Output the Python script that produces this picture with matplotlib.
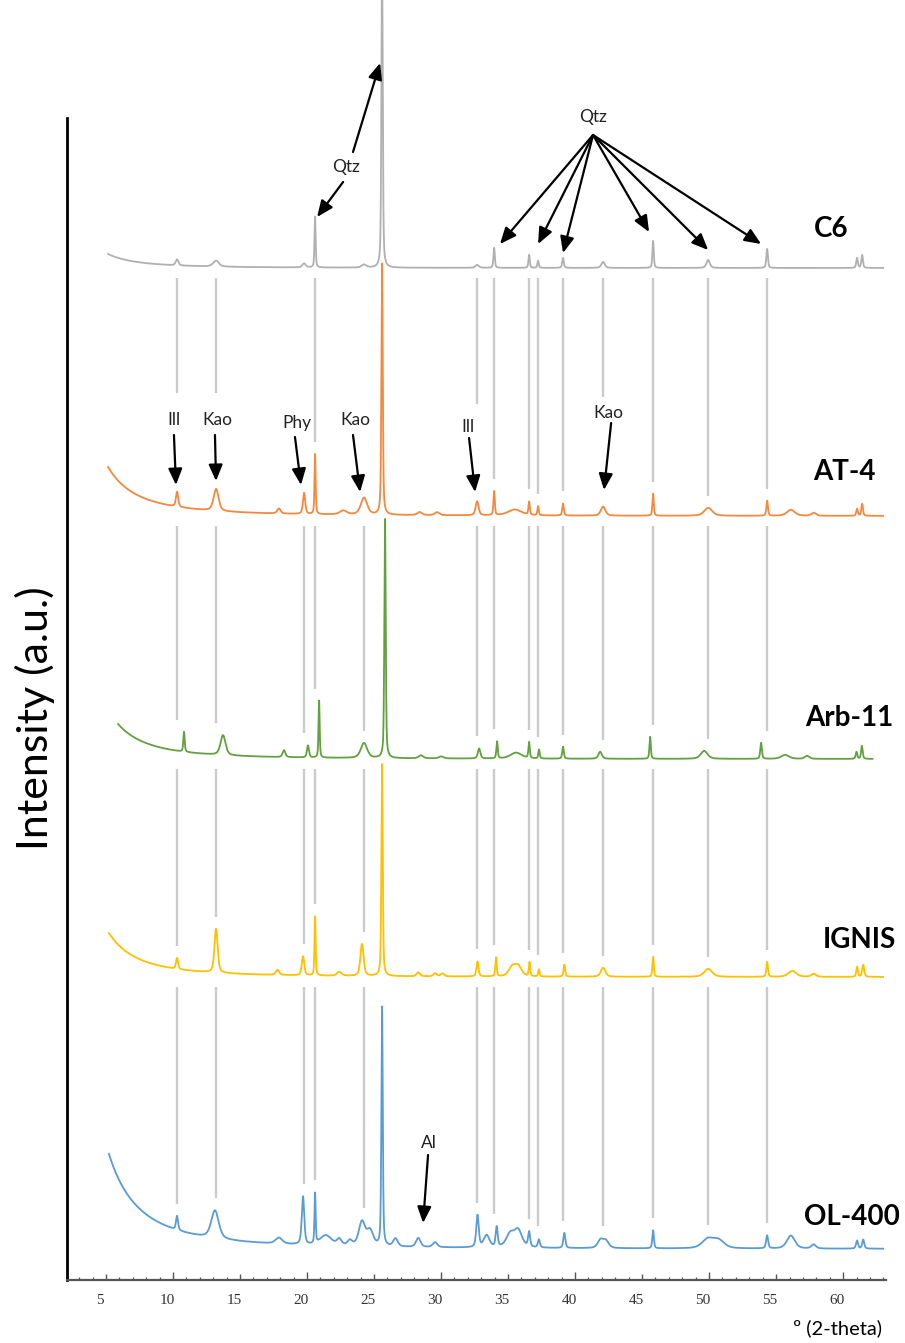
import numpy as np
import matplotlib
matplotlib.use("Agg")
import matplotlib.pyplot as plt
from matplotlib.ticker import MultipleLocator
import matplotlib.transforms as mtransforms

# ---------------- data (2-theta in degrees, intensity in a.u.) ----------------
samples = ["C6", "AT-4", "Arb-11", "IGNIS", "OL-400"]
colors = ["#b0b0b0", "#f4893e", "#62a040", "#ffc000", "#5b9bd5"]

# stacking offsets of each pattern (a.u.)
offsets = [1012, 764, 521, 303, 31]
# scan range of each pattern
scan_start = [5.15, 5.15, 5.9, 5.22, 5.22]
scan_end = [63.0, 63.0, 62.2, 63.0, 63.0]
# low-angle background: amplitude at scan start and decay exponent
bg_amp = [14, 49, 35, 44, 95]
bg_exp = [2.4, 2.4, 2.6, 2.5, 2.37]

c6_pos = [10.3, 13.21, 19.78, 20.6, 24.25, 25.6, 32.69, 33.96, 36.57, 37.24,
          39.10, 42.09, 45.82, 49.93, 54.33, 61.04, 61.42]
c6_hgt = [6, 6, 4, 51, 3, 300, 3, 20, 13, 7, 10, 6, 27, 8, 19, 10, 13]
c6_wid = [0.12, 0.25, 0.15, 0.05, 0.2, 0.06, 0.15, 0.06, 0.06, 0.06, 0.07,
          0.15, 0.06, 0.15, 0.07, 0.07, 0.07]

at4_pos = [10.3, 13.21, 17.9, 19.78, 20.6, 22.7, 24.25, 25.6, 28.4, 29.7,
           32.69, 33.96, 35.5, 36.57, 37.24, 39.10, 42.09, 45.82, 49.93,
           54.33, 56.1, 57.8, 61.04, 61.42]
at4_hgt = [15, 22, 5, 21, 60, 4, 17, 251, 3, 3, 14, 24, 6, 13, 9, 12, 9, 22,
           8, 15, 6, 3, 7, 12]
at4_wid = [0.1, 0.22, 0.15, 0.1, 0.05, 0.3, 0.28, 0.06, 0.2, 0.2, 0.13,
           0.06, 0.6, 0.06, 0.06, 0.07, 0.2, 0.06, 0.35, 0.07, 0.35, 0.2,
           0.07, 0.07]

arb_pos = [10.82, 13.73, 18.28, 20.07, 20.90, 24.25, 25.82, 28.5, 30.0,
           32.84, 34.18, 35.6, 36.57, 37.31, 39.10, 41.87, 45.60, 49.63,
           53.88, 55.67, 57.31, 61.0, 61.4]
arb_hgt = [20, 20, 7, 12, 57, 15, 239, 3, 2, 10, 17, 6, 16, 9, 12, 7, 22, 8,
           16, 4, 3, 7, 13]
arb_wid = [0.06, 0.22, 0.12, 0.09, 0.05, 0.28, 0.06, 0.2, 0.2, 0.11, 0.06,
           0.5, 0.06, 0.06, 0.07, 0.15, 0.06, 0.3, 0.07, 0.35, 0.2, 0.07,
           0.07]

ign_pos = [10.3, 13.21, 17.8, 19.7, 20.6, 22.4, 24.1, 25.6, 28.3, 29.55,
           30.1, 32.72, 34.1, 35.3, 35.75, 36.6, 37.3, 39.2, 42.09, 45.82,
           49.93, 54.33, 56.2, 57.8, 61.04, 61.5]
ign_hgt = [11, 44, 5, 19, 59, 4, 32, 212, 4, 3, 3, 15, 19, 9, 10, 14, 7, 12,
           9, 20, 8, 15, 6, 3, 10, 12]
ign_wid = [0.09, 0.14, 0.15, 0.11, 0.05, 0.2, 0.14, 0.06, 0.15, 0.15, 0.15,
           0.09, 0.06, 0.3, 0.3, 0.06, 0.06, 0.07, 0.2, 0.06, 0.35, 0.07,
           0.35, 0.2, 0.07, 0.09]

ol_pos = [10.3, 13.13, 17.9, 19.7, 20.6, 21.4, 22.4, 23.2, 24.1, 24.7, 25.6,
          26.6, 28.3, 29.55, 32.72, 33.4, 34.15, 35.15, 35.75, 36.57, 37.3,
          39.2, 41.9, 42.3, 45.82, 49.9, 50.7, 54.33, 56.1, 57.8, 61.04, 61.5]
ol_hgt = [14, 28, 6, 48, 50, 10, 6, 5, 24, 15, 239, 8, 9, 5, 32, 12, 20, 13,
          17, 15, 8, 15, 8, 7, 18, 9, 8, 13, 13, 4, 8, 9]
ol_wid = [0.09, 0.33, 0.3, 0.11, 0.05, 0.5, 0.2, 0.2, 0.28, 0.28, 0.06, 0.2,
          0.2, 0.2, 0.11, 0.25, 0.09, 0.35, 0.35, 0.09, 0.09, 0.09, 0.25,
          0.25, 0.07, 0.5, 0.5, 0.09, 0.35, 0.2, 0.09, 0.09]

peak_pos = [c6_pos, at4_pos, arb_pos, ign_pos, ol_pos]
peak_hgt = [c6_hgt, at4_hgt, arb_hgt, ign_hgt, ol_hgt]
peak_wid = [c6_wid, at4_wid, arb_wid, ign_wid, ol_wid]

# reference (grey) lines between consecutive patterns
ref_lines = [10.3, 13.21, 19.78, 20.6, 24.25, 32.69, 33.96, 36.57, 37.24,
             39.10, 42.09, 45.82, 49.93, 54.33]
gap1_skip = [19.78, 24.25]
gap1_label_stop = {10.3: 887, 13.21: 887, 32.69: 876, 42.09: 883}

x_ticks = [5, 10, 15, 20, 25, 30, 35, 40, 45, 50, 55, 60]

# ---------------- figure ----------------
W, H = 905, 1343
fig = plt.figure(figsize=(W / 100, H / 100), dpi=100)
ax = fig.add_axes([67 / W, 63 / H, (886 - 67) / W, 1280 / H])
ax.set_xlim(2.09, 63.2)
ax.set_ylim(0, 1280)

SANS = ["Lato", "DejaVu Sans"]


def pattern(i):
    x = np.arange(scan_start[i], scan_end[i], 0.01)
    y = offsets[i] + bg_amp[i] * (scan_start[i] / x) ** bg_exp[i]
    for c, h, w in zip(peak_pos[i], peak_hgt[i], peak_wid[i]):
        d = (x - c) / w
        y = y + h * (0.5 * np.exp(-np.log(2) * d * d) + 0.5 / (1 + d * d))
    return x, y


traces = [pattern(i) for i in range(len(samples))]

# grey reference lines
for i in range(len(samples) - 1):
    top = offsets[i] - 10
    lx, ly = traces[i + 1]
    for xr in ref_lines:
        if i == 0 and xr in gap1_skip:
            continue
        if i == 0 and xr in gap1_label_stop:
            bot = gap1_label_stop[xr]
        else:
            m = (lx > xr - 0.6) & (lx < xr + 0.6)
            bot = ly[m].max() + 12
        ax.plot([xr, xr], [top, bot], color="#cbcbcb", lw=1.7,
                solid_capstyle="butt", zorder=1)

for i, (x, y) in enumerate(traces):
    ax.plot(x, y, color=colors[i], lw=1.3, zorder=2 + i * 0.1)

# sample names
name_x = [57.8, 57.8, 57.16, 58.5, 57.09]
name_y = [1051, 808, 562, 340, 63]
for n, xx, yy in zip(samples, name_x, name_y):
    ax.text(xx, yy, n, fontsize=20, fontweight="bold", family=SANS,
            ha="left", va="center", zorder=5)

# phase annotations
aprops = dict(arrowstyle="-|>,head_length=0.7,head_width=0.3", color="black",
              lw=1.6, shrinkA=0, shrinkB=0, mutation_scale=14)


def label(txt, xy):
    ax.text(xy[0], xy[1], txt, fontsize=12.5, family=SANS, ha="center",
            va="center", color="#222222", zorder=6)


def arrow(src, dst):
    ax.annotate("", xy=dst, xytext=src, arrowprops=aprops, zorder=6,
                annotation_clip=False)


label("Qtz", (22.91, 1113))
arrow((22.69, 1098), (20.75, 1063))
arrow((23.43, 1128), (25.45, 1217))

label("Qtz", (41.34, 1163))
for t in [(34.40, 1036), (37.24, 1036), (39.10, 1027), (45.52, 1048),
          (49.93, 1030), (53.88, 1036)]:
    arrow((41.34, 1145), t)

for txt, lp, src, dst in [
        ("Ill", (10.07, 860), (10.07, 845), (10.22, 795)),
        ("Kao", (13.28, 860), (13.13, 845), (13.21, 799)),
        ("Phy", (19.25, 857), (19.10, 843), (19.55, 795)),
        ("Kao", (23.58, 860), (23.43, 845), (23.96, 788)),
        ("Ill", (32.01, 853), (32.09, 842), (32.54, 788)),
        ("Kao", (42.46, 867), (42.69, 857), (42.16, 790)),
        ("Al", (29.10, 137), (29.03, 125), (28.66, 57))]:
    label(txt, lp)
    arrow(src, dst)

# axes styling
for s in ["top", "right"]:
    ax.spines[s].set_visible(False)
ax.spines["left"].set_bounds(0, 1280 - 118)
ax.spines["left"].set_linewidth(2.0)
ax.spines["left"].set_color("black")
ax.spines["bottom"].set_linewidth(1.6)
ax.spines["bottom"].set_color("#555555")
ax.set_yticks([])
ax.set_xticks(x_ticks)
ax.xaxis.set_minor_locator(MultipleLocator(1))
ax.tick_params(axis="x", which="major", direction="in", length=4, width=1.0,
               color="#555555", pad=10, labelsize=11)
ax.tick_params(axis="x", which="minor", direction="in", length=2.2,
               width=0.9, color="#555555")
for t, v in zip(ax.xaxis.get_major_ticks(), x_ticks):
    if v % 10 == 0:
        t.tick1line.set_markersize(6)
off = mtransforms.ScaledTranslation(-6 / 100, 0, fig.dpi_scale_trans)
for lab in ax.get_xticklabels():
    lab.set_family(["Liberation Serif", "DejaVu Serif"])
    lab.set_color("#333333")
    lab.set_transform(lab.get_transform() + off)

fig.text(35 / W, 1 - 718 / H, "Intensity (a.u.)", rotation=90, fontsize=31,
         family=SANS, ha="center", va="center")
fig.text(882 / W, 1 - 1328 / H, "º (2-theta)", fontsize=14.5, family=SANS,
         ha="right", va="center")

fig.savefig("out.png", dpi=100)
